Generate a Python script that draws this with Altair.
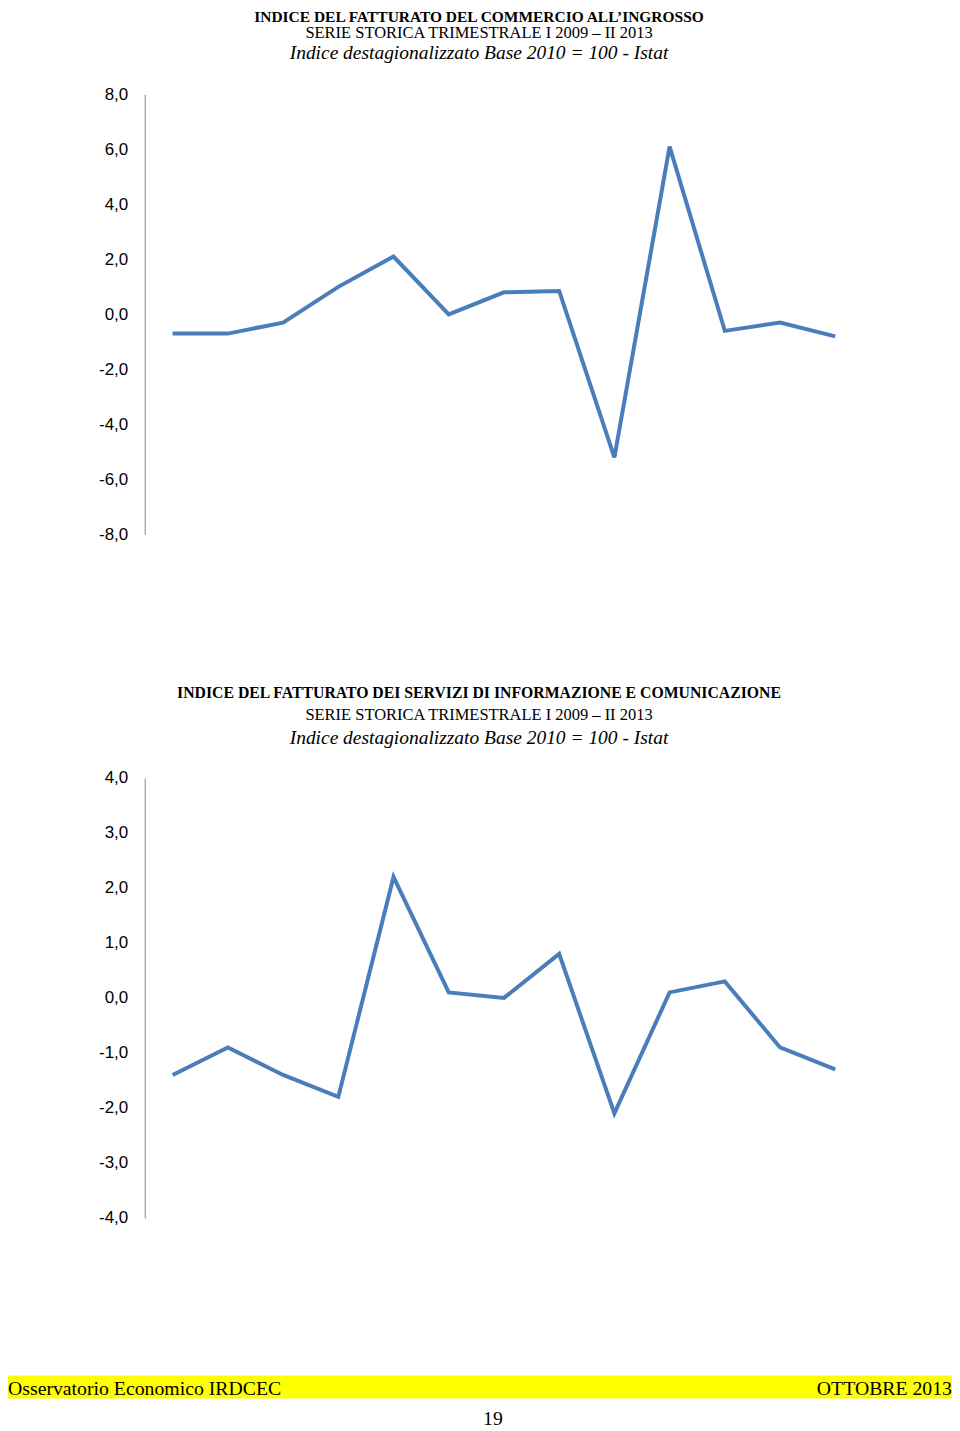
import altair as alt
import pandas as pd

quarters = ["II 2010", "III 2010", "IV 2010", "I 2011", "II 2011", "III 2011", "IV 2011",
            "I 2012", "II 2012", "III 2012", "IV 2012", "I 2013", "II 2013"]
ingrosso = [-0.7, -0.7, -0.3, 1.0, 2.1, 0.0, 0.8, 0.85, -5.2, 6.1, -0.6, -0.3, -0.8]
informazione = [-1.4, -0.9, -1.4, -1.8, 2.2, 0.1, 0.0, 0.8, -2.1, 0.1, 0.3, -0.9, -1.3]
ticks_top = [-8, -6, -4, -2, 0, 2, 4, 6, 8]
ticks_bottom = [-4, -3, -2, -1, 0, 1, 2, 3, 4]

title1 = ["INDICE DEL FATTURATO DEL COMMERCIO ALL\u2019INGROSSO",
          "SERIE STORICA TRIMESTRALE I 2009 \u2013 II 2013",
          "Indice destagionalizzato Base 2010 = 100 - Istat"]
title2 = ["INDICE DEL FATTURATO DEI SERVIZI DI INFORMAZIONE E COMUNICAZIONE",
          "SERIE STORICA TRIMESTRALE I 2009 \u2013 II 2013",
          "Indice destagionalizzato Base 2010 = 100 - Istat"]
footer_left = "Osservatorio Economico IRDCEC"
footer_right = "OTTOBRE 2013"
page_no = "19"

LINE = "#4A7EBB"
SERIF = "Liberation Serif"
SANS = "Liberation Sans"
label_expr = "replace(replace(format(datum.value, '.1f'), '.', ','), '\u2212', '-')"

df1 = pd.DataFrame({"q": quarters, "v": ingrosso})
df2 = pd.DataFrame({"q": quarters, "v": informazione})

xenc = alt.X("q:O", sort=quarters, axis=None,
             scale=alt.Scale(type="point", range=[163, 827], padding=0))


def yaxis(vals):
    return alt.Axis(values=vals, labelExpr=label_expr, orient="left", offset=-135,
                    ticks=False, grid=False, title=None, domainColor="#888888",
                    labelFont=SANS, labelFontSize=17, labelColor="#000000",
                    labelPadding=17, domainWidth=1)


line1 = alt.Chart(df1).mark_line(color=LINE, strokeWidth=4, strokeJoin="miter").encode(
    x=xenc,
    y=alt.Y("v:Q", axis=yaxis(ticks_top),
            scale=alt.Scale(domain=[-8, 8], range=[518, 77], nice=False, zero=False)),
)
line2 = alt.Chart(df2).mark_line(color=LINE, strokeWidth=4, strokeJoin="miter").encode(
    x=xenc,
    y=alt.Y("v:Q", axis=yaxis(ticks_bottom),
            scale=alt.Scale(domain=[-4, 4], range=[1203, 762], nice=False, zero=False)),
)

one = alt.Data(values=[{}])


def txt(s, x, y, size, weight="normal", style="normal", align="center", baseline="middle", font=SERIF):
    return alt.Chart(one).mark_text(text=s, font=font, fontSize=size, fontWeight=weight,
                                    fontStyle=style, align=align, baseline=baseline,
                                    color="#000000").encode(x=alt.value(x), y=alt.value(y))


texts = [
    txt(title1[0], 470, 0, 15.5, weight="bold"),
    txt(title1[1], 470, 16, 16.5),
    txt(title1[2], 470, 36, 19.5, style="italic"),
    txt(title2[0], 470, 677, 15.8, weight="bold"),
    txt(title2[1], 470, 699, 16.5),
    txt(title2[2], 470, 722, 19.5, style="italic"),
]

bar = alt.Chart(one).mark_rect(color="#FFFF00").encode(
    x=alt.value(-4), x2=alt.value(944), y=alt.value(1361), y2=alt.value(1384))

footer = [
    txt(footer_left, -2, 1374, 19.8, align="left"),
    txt(footer_right, 944, 1374, 19.8, align="right"),
    txt(page_no, 484, 1414, 19.8, baseline="bottom"),
]

chart = alt.layer(line1, line2, bar, *texts, *footer).resolve_scale(y="independent").properties(
    width=944, height=1415,
    autosize=alt.AutoSizeParams(type="none"),
    padding={"left": 2, "top": 8, "right": 0, "bottom": 0},
).configure_view(stroke=None)

chart.save("out.html", embed_options={"renderer": "svg", "actions": False})
